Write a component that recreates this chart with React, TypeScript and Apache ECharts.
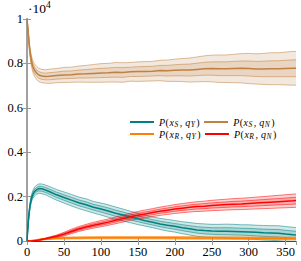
import React, { useEffect, useRef } from "react";
import * as echarts from "echarts";

// time steps (x values)
const steps = [0, 1, 2, 3, 4, 6, 8, 10, 13, 16, 20, 25, 30, 40, 50, 60, 70, 80, 90, 100, 110, 120, 130, 140, 150, 160, 170, 180, 190, 200, 210, 220, 230, 240, 250, 260, 270, 280, 290, 300, 310, 320, 330, 340, 350, 360, 364];

// P(x_S, q_N) (brown) mean and spread, units of 10^4
const meanSN = [1.0, 0.965, 0.925, 0.885, 0.852, 0.81, 0.785, 0.77, 0.757, 0.748, 0.743, 0.741, 0.742, 0.745, 0.748, 0.749, 0.752, 0.753, 0.755, 0.757, 0.758, 0.76, 0.759, 0.762, 0.763, 0.764, 0.765, 0.768, 0.767, 0.769, 0.77, 0.77, 0.773, 0.776, 0.777, 0.776, 0.776, 0.777, 0.778, 0.777, 0.775, 0.775, 0.776, 0.776, 0.777, 0.778, 0.778];
const sdSN = [0, 0.004, 0.007, 0.009, 0.01, 0.012, 0.013, 0.014, 0.015, 0.015, 0.015, 0.015, 0.016, 0.016, 0.017, 0.017, 0.018, 0.019, 0.02, 0.021, 0.021, 0.022, 0.022, 0.021, 0.022, 0.022, 0.022, 0.023, 0.024, 0.025, 0.026, 0.027, 0.028, 0.029, 0.03, 0.031, 0.031, 0.032, 0.033, 0.034, 0.034, 0.035, 0.036, 0.036, 0.037, 0.038, 0.038];

// P(x_S, q_Y) (teal)
const meanSY = [0, 0.05, 0.095, 0.13, 0.158, 0.192, 0.21, 0.222, 0.231, 0.236, 0.235, 0.23, 0.223, 0.208, 0.196, 0.184, 0.172, 0.163, 0.152, 0.144, 0.135, 0.125, 0.117, 0.108, 0.1, 0.091, 0.084, 0.077, 0.071, 0.066, 0.06, 0.055, 0.05, 0.047, 0.045, 0.044, 0.044, 0.043, 0.042, 0.041, 0.039, 0.037, 0.036, 0.035, 0.031, 0.028, 0.027];
const sdSY = [0, 0.003, 0.005, 0.006, 0.007, 0.008, 0.009, 0.01, 0.01, 0.0105, 0.011, 0.011, 0.0115, 0.012, 0.0125, 0.013, 0.013, 0.0135, 0.013, 0.0135, 0.014, 0.014, 0.0135, 0.013, 0.013, 0.012, 0.012, 0.0125, 0.013, 0.013, 0.0135, 0.014, 0.0145, 0.015, 0.015, 0.0155, 0.016, 0.016, 0.0155, 0.016, 0.016, 0.0165, 0.0165, 0.017, 0.017, 0.017, 0.017];

// P(x_R, q_Y) (orange)
const meanRY = [0, 0, 0.0003, 0.0006, 0.001, 0.0016, 0.0024, 0.0032, 0.0045, 0.006, 0.0075, 0.009, 0.0105, 0.012, 0.013, 0.0136, 0.014, 0.0143, 0.0145, 0.0146, 0.0147, 0.0148, 0.0148, 0.0147, 0.0147, 0.0146, 0.0145, 0.0144, 0.0143, 0.0142, 0.014, 0.0139, 0.0137, 0.0136, 0.0134, 0.0132, 0.013, 0.0128, 0.0127, 0.0125, 0.0123, 0.0121, 0.012, 0.0118, 0.0117, 0.0115, 0.0115];
const sdRY = [0, 0, 0.0001, 0.0002, 0.0003, 0.0005, 0.0007, 0.0009, 0.0011, 0.0013, 0.0015, 0.0017, 0.0019, 0.0021, 0.0023, 0.0024, 0.0025, 0.0026, 0.0026, 0.0027, 0.0027, 0.0028, 0.0028, 0.0028, 0.0028, 0.0029, 0.0029, 0.0029, 0.0029, 0.003, 0.003, 0.003, 0.003, 0.003, 0.003, 0.003, 0.003, 0.003, 0.003, 0.003, 0.003, 0.003, 0.003, 0.003, 0.003, 0.003, 0.003];

// P(x_R, q_N) (red)
const meanRN = [0, 0, 0, 0.0001, 0.0002, 0.0004, 0.0008, 0.0015, 0.0028, 0.0045, 0.007, 0.01, 0.014, 0.021, 0.031, 0.043, 0.054, 0.063, 0.071, 0.078, 0.085, 0.093, 0.101, 0.109, 0.116, 0.122, 0.128, 0.134, 0.139, 0.144, 0.148, 0.152, 0.155, 0.157, 0.16, 0.162, 0.164, 0.166, 0.167, 0.169, 0.171, 0.173, 0.175, 0.177, 0.179, 0.181, 0.182];
const sdRN = [0, 0, 0, 0, 0.0001, 0.0002, 0.0003, 0.0004, 0.0006, 0.0008, 0.001, 0.0015, 0.002, 0.003, 0.004, 0.005, 0.0055, 0.006, 0.0065, 0.007, 0.0072, 0.0075, 0.0078, 0.008, 0.0085, 0.0088, 0.009, 0.0093, 0.0096, 0.01, 0.0103, 0.0106, 0.011, 0.0113, 0.0116, 0.012, 0.0122, 0.0125, 0.0128, 0.013, 0.0133, 0.0136, 0.014, 0.0143, 0.0146, 0.015, 0.015];

const names = ["P(x_S,q_Y)", "P(x_S,q_N)", "P(x_R,q_Y)", "P(x_R,q_N)"];
const subs: Record<string, [string, string]> = {
  "P(x_S,q_Y)": ["S", "Y"],
  "P(x_S,q_N)": ["S", "N"],
  "P(x_R,q_Y)": ["R", "Y"],
  "P(x_R,q_N)": ["R", "N"],
};

const TEAL = "#008080";
const BROWN = "#bf8040";
const ORANGE = "#ff8000";
const RED = "#ff0000";

function group(name: string, mean: number[], sd: number[], color: string) {
  const rows = steps.map((x, i) => [x, mean[i] - 2 * sd[i], mean[i] + 2 * sd[i]]);
  const band = {
    type: "custom",
    name: name + "_band",
    silent: true,
    clip: true,
    data: rows,
    encode: { x: 0, y: [1, 2] },
    renderItem: (params: any, api: any) => {
      if (params.dataIndex !== 0) return null;
      const pts = (k: number) => steps.map((x, i) => api.coord([x, mean[i] + k * sd[i]]));
      const lo2 = pts(-2), lo1 = pts(-1), hi1 = pts(1), hi2 = pts(2);
      const edge = { stroke: color, lineWidth: 0.7, opacity: 0.75, fill: null };
      return {
        type: "group",
        children: [
          { type: "polygon", shape: { points: [...lo2, ...hi2.slice().reverse()] }, style: { fill: color, opacity: 0.18 } },
          { type: "polygon", shape: { points: [...lo1, ...hi1.slice().reverse()] }, style: { fill: color, opacity: 0.18 } },
          { type: "polyline", shape: { points: lo2 }, style: edge },
          { type: "polyline", shape: { points: hi2 }, style: edge },
          { type: "polyline", shape: { points: lo1 }, style: edge },
          { type: "polyline", shape: { points: hi1 }, style: edge },
        ],
      };
    },
  };
  const line = {
    type: "line", name, symbol: "none", silent: true, color,
    data: steps.map((x, i) => [x, mean[i]]),
    lineStyle: { color, width: 1.5 }, itemStyle: { color },
  };
  return [band, line];
}

const FONT = "Liberation Serif";

export default function App() {
  const ref = useRef<HTMLDivElement>(null);
  useEffect(() => {
    if (!ref.current) return;
    const chart = echarts.init(ref.current, undefined, { renderer: "svg" });
    const legendText = {
      fontFamily: FONT,
      color: "#000",
      fontSize: 10,
      width: 46,
      rich: {
        i: { fontFamily: FONT, fontStyle: "italic", fontSize: 10, lineHeight: 12, verticalAlign: "middle", padding: [0, 0.5, 0, 0] },
        n: { fontFamily: FONT, fontSize: 10, lineHeight: 12, verticalAlign: "middle", padding: [0, 0.5, 0, 0] },
        c: { fontFamily: FONT, fontSize: 10, lineHeight: 12, verticalAlign: "middle", padding: [0, 3, 0, 0] },
        s: { fontFamily: FONT, fontStyle: "italic", fontSize: 7.5, lineHeight: 12, verticalAlign: "bottom", padding: [0, 1.5, 0, 0] },
      },
    };
    const fmt = (name: string) => {
      const [a, b] = subs[name];
      return `{i|P}{n|(}{i|x}{s|${a}}{c|,}{i|q}{s|${b}}{n|)}`;
    };
    const legendCommon = {
      left: 125,
      orient: "horizontal",
      icon: "rect",
      itemWidth: 24,
      itemHeight: 2,
      itemGap: 4,
      formatter: fmt,
      textStyle: legendText,
      selectedMode: false,
    };
    const tick = { inside: true, length: 4, lineStyle: { color: "#999", width: 1 } };
    chart.setOption({
      animation: false,
      backgroundColor: "#fff",
      grid: { left: 27, right: 5, top: 19, bottom: 20 },
      legend: [
        { ...legendCommon, top: 112, data: [names[0], names[1]] },
        { ...legendCommon, top: 124, data: [names[2], names[3]] },
      ],
      xAxis: [
        {
          type: "value", min: 0, max: 364, interval: 50, position: "bottom",
          axisLine: { show: true, lineStyle: { color: "#444", width: 1 } },
          axisTick: tick,
          axisLabel: { color: "#000", fontFamily: FONT, fontSize: 12.5, margin: 4, showMaxLabel: false },
          splitLine: { show: false },
        },
        {
          type: "value", min: 0, max: 364, interval: 50, position: "top",
          axisLine: { show: true, lineStyle: { color: "#444", width: 1 } },
          axisTick: tick,
          axisLabel: { show: false },
          splitLine: { show: false },
        },
      ],
      yAxis: [
        {
          type: "value", min: 0, max: 1, interval: 0.2, position: "left",
          axisLine: { show: true, lineStyle: { color: "#444", width: 1 } },
          axisTick: tick,
          axisLabel: { color: "#000", fontFamily: FONT, fontSize: 12.5, margin: 4 },
          splitLine: { show: false },
        },
        {
          type: "value", min: 0, max: 1, interval: 0.2, position: "right",
          axisLine: { show: true, lineStyle: { color: "#a0a0a0", width: 2 } },
          axisTick: tick,
          axisLabel: { show: false },
          splitLine: { show: false },
        },
      ],
      graphic: [
        {
          type: "text", left: 28, top: 0,
          style: {
            text: "{a|·10}{b|4}",
            rich: {
              a: { fontFamily: FONT, fontSize: 13.5, lineHeight: 15, verticalAlign: "bottom", fill: "#000" },
              b: { fontFamily: FONT, fontSize: 9.5, lineHeight: 15, verticalAlign: "top", fill: "#000" },
            },
          },
        },
      ],
      series: [
        ...group(names[1], meanSN, sdSN, BROWN),
        ...group(names[0], meanSY, sdSY, TEAL),
        ...group(names[2], meanRY, sdRY, ORANGE),
        ...group(names[3], meanRN, sdRN, RED),
      ],
    });
    return () => chart.dispose();
  }, []);
  return <div ref={ref} style={{ position: "fixed", left: 0, top: 0, width: 301, height: 261 }} />;
}
